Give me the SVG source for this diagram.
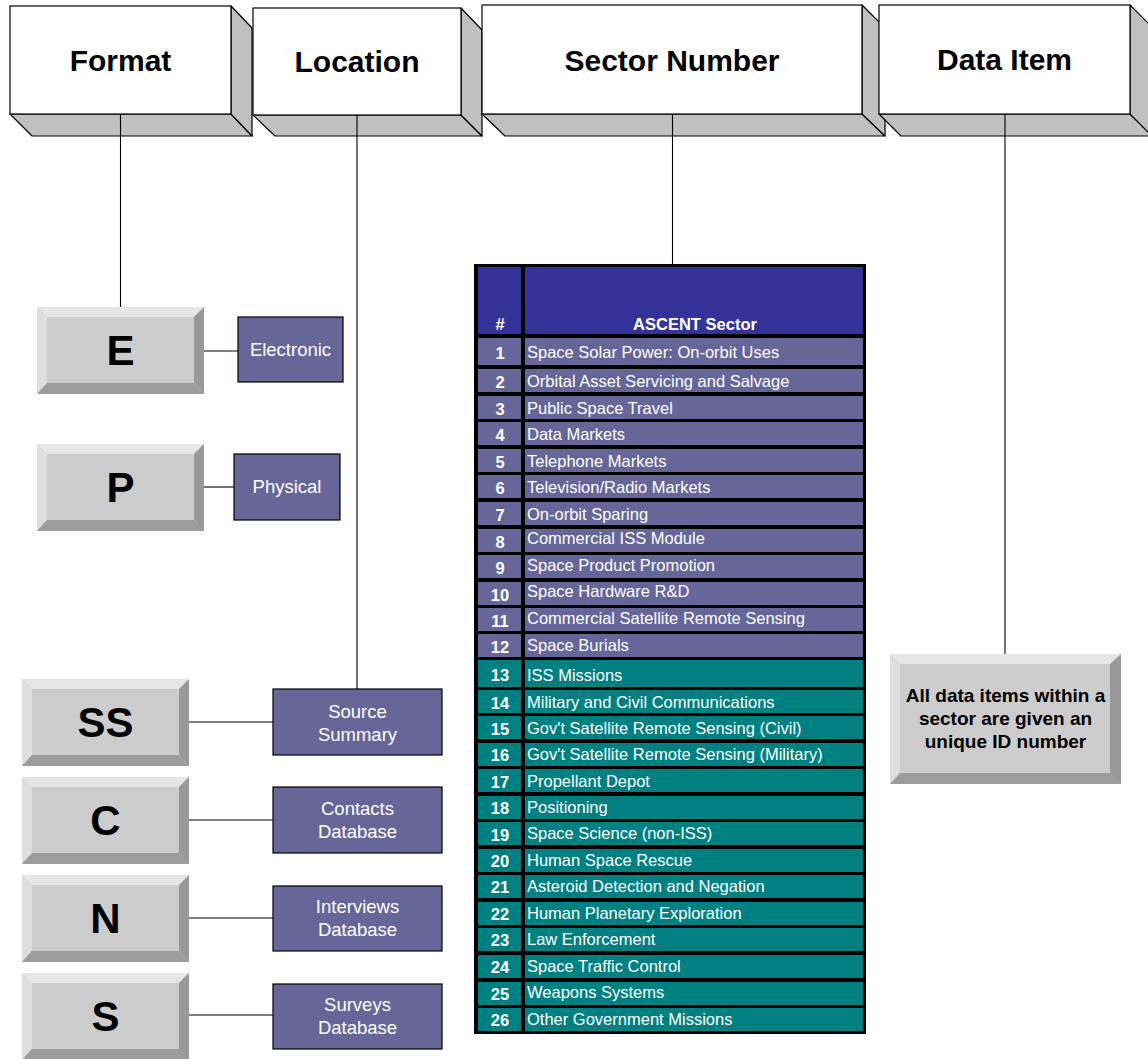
<svg xmlns="http://www.w3.org/2000/svg" xmlns:xlink="http://www.w3.org/1999/xlink" width="1148" height="1059" viewBox="0 0 1148 1059">
  <style>
    .front { fill: #ffffff; stroke: #000000; stroke-width: 1.2; }
    .side { fill: #c0c0c0; stroke: #000000; stroke-width: 1.2; stroke-linejoin: round; }
    .htitle { font-family: "Liberation Sans", Arial, sans-serif; font-weight: bold; font-size: 30px; fill: #000000; text-anchor: middle; }
    .key { font-family: "Liberation Sans", Arial, sans-serif; font-weight: bold; font-size: 42px; fill: #000000; text-anchor: middle; }
    .tag { fill: #666699; stroke: #000000; stroke-width: 1.2; }
    .tagtxt { font-family: "Liberation Sans", Arial, sans-serif; font-size: 18.5px; fill: #ffffff; text-anchor: middle; }
    .conn { stroke: #000000; stroke-width: 1.1; fill: none; }
    .hdr { fill: #333399; }
    .hdrtxt { font-family: "Liberation Sans", Arial, sans-serif; font-weight: bold; font-size: 16.5px; fill: #ffffff; text-anchor: middle; }
    .p { fill: #666699; }
    .t { fill: #008080; }
    .num { font-family: "Liberation Sans", Arial, sans-serif; font-weight: bold; font-size: 16.5px; fill: #ffffff; text-anchor: middle; }
    .name { font-family: "Liberation Sans", Arial, sans-serif; font-size: 16.5px; fill: #ffffff; }
    .note { font-family: "Liberation Sans", Arial, sans-serif; font-weight: bold; font-size: 19px; fill: #000000; text-anchor: middle; }
  </style>
  <defs>
    <!-- bevelled key, 167 x 87 -->
    <g id="key">
      <rect x="0" y="0" width="167" height="87" fill="#cccccc"/>
      <polygon points="0,0 167,0 157,10 10,10" fill="#e6e6e6"/>
      <polygon points="0,0 10,10 10,76 0,87" fill="#dedede"/>
      <polygon points="167,0 167,87 157,76 157,10" fill="#999999"/>
      <polygon points="0,87 10,76 157,76 167,87" fill="#9c9c9c"/>
    </g>
  </defs>

  <rect x="0" y="0" width="1148" height="1059" fill="#ffffff"/>

  <!-- connectors -->
  <g id="connectors">
    <line class="conn" x1="120.5" y1="114" x2="120.5" y2="307"/>
    <line class="conn" x1="357" y1="115" x2="357" y2="689"/>
    <line class="conn" x1="672.5" y1="114" x2="672.5" y2="264"/>
    <line class="conn" x1="1005" y1="114" x2="1005" y2="654"/>
    <line class="conn" x1="204" y1="351" x2="238" y2="351"/>
    <line class="conn" x1="204" y1="487" x2="234" y2="487"/>
    <line class="conn" x1="189" y1="722" x2="273" y2="722"/>
    <line class="conn" x1="189" y1="820" x2="273" y2="820"/>
    <line class="conn" x1="189" y1="918" x2="273" y2="918"/>
    <line class="conn" x1="189" y1="1015" x2="273" y2="1015"/>
  </g>

  <!-- header blocks -->
  <g id="hdr-format">
    <polygon class="side" points="10,114 231,114 252,136 32,136"/>
    <polygon class="side" points="231,6 252,28 252,136 231,114"/>
    <rect class="front" x="10" y="6" width="221" height="108"/>
    <line class="conn" x1="120.5" y1="114" x2="120.5" y2="136"/>
    <text class="htitle" x="120.5" y="71">Format</text>
  </g>
  <g id="hdr-location">
    <polygon class="side" points="253,115 461,115 482,136 275,136"/>
    <polygon class="side" points="461,8 482,30 482,136 461,115"/>
    <rect class="front" x="253" y="8" width="208" height="107"/>
    <line class="conn" x1="357" y1="115" x2="357" y2="136"/>
    <text class="htitle" x="357" y="72">Location</text>
  </g>
  <g id="hdr-sector">
    <polygon class="side" points="482,114 862,114 885,136 505,136"/>
    <polygon class="side" points="862,5 885,28 885,136 862,114"/>
    <rect class="front" x="482" y="5" width="380" height="109"/>
    <line class="conn" x1="672.5" y1="114" x2="672.5" y2="136"/>
    <text class="htitle" x="672" y="71">Sector Number</text>
  </g>
  <g id="hdr-item">
    <polygon class="side" points="879,114 1130,114 1152,136 901,136"/>
    <polygon class="side" points="1130,5 1152,27 1152,136 1130,114"/>
    <rect class="front" x="879" y="5" width="251" height="109"/>
    <line class="conn" x1="1005" y1="114" x2="1005" y2="136"/>
    <text class="htitle" x="1004.5" y="70">Data Item</text>
  </g>

  <!-- format keys -->
  <g id="key-e">
    <use xlink:href="#key" x="37" y="307"/>
    <text class="key" x="120.5" y="365">E</text>
  </g>
  <g id="tag-electronic">
    <rect class="tag" x="238" y="317" width="105" height="65"/>
    <text class="tagtxt" x="290.5" y="356">Electronic</text>
  </g>
  <g id="key-p">
    <use xlink:href="#key" x="37" y="444"/>
    <text class="key" x="120.5" y="502">P</text>
  </g>
  <g id="tag-physical">
    <rect class="tag" x="234" y="454" width="106" height="66"/>
    <text class="tagtxt" x="287" y="493">Physical</text>
  </g>

  <!-- location keys -->
  <g id="key-ss">
    <use xlink:href="#key" x="22" y="679"/>
    <text class="key" x="105.5" y="737">SS</text>
  </g>
  <g id="tag-source">
    <rect class="tag" x="273" y="689" width="169" height="66"/>
    <text class="tagtxt" x="357.5" y="718">Source</text>
    <text class="tagtxt" x="357.5" y="741">Summary</text>
  </g>
  <g id="key-c">
    <use xlink:href="#key" x="22" y="777"/>
    <text class="key" x="105.5" y="835">C</text>
  </g>
  <g id="tag-contacts">
    <rect class="tag" x="273" y="787" width="169" height="66"/>
    <text class="tagtxt" x="357.5" y="815">Contacts</text>
    <text class="tagtxt" x="357.5" y="838">Database</text>
  </g>
  <g id="key-n">
    <use xlink:href="#key" x="22" y="875"/>
    <text class="key" x="105.5" y="933">N</text>
  </g>
  <g id="tag-interviews">
    <rect class="tag" x="273" y="886" width="169" height="65"/>
    <text class="tagtxt" x="357.5" y="913">Interviews</text>
    <text class="tagtxt" x="357.5" y="936">Database</text>
  </g>
  <g id="key-s">
    <use xlink:href="#key" x="22" y="973"/>
    <text class="key" x="105.5" y="1031">S</text>
  </g>
  <g id="tag-surveys">
    <rect class="tag" x="273" y="984" width="169" height="65"/>
    <text class="tagtxt" x="357.5" y="1011">Surveys</text>
    <text class="tagtxt" x="357.5" y="1034">Database</text>
  </g>

  <!-- sector table -->
  <g id="sector-table">
    <rect x="474" y="264" width="392" height="770" fill="#000000"/>
    <rect class="hdr" x="478" y="267" width="43" height="67"/>
    <rect class="hdr" x="525" y="267" width="338" height="67"/>
    <text class="hdrtxt" x="500" y="330">#</text>
    <text class="hdrtxt" x="695" y="330">ASCENT Sector</text>

    <rect class="p" x="478" y="338" width="43" height="27"/><rect class="p" x="525" y="338" width="338" height="27"/>
    <text class="num" x="500" y="359">1</text><text class="name" x="527" y="358">Space Solar Power: On-orbit Uses</text>
    <rect class="p" x="478" y="369" width="43" height="23"/><rect class="p" x="525" y="369" width="338" height="23"/>
    <text class="num" x="500" y="387.5">2</text><text class="name" x="527" y="386.5">Orbital Asset Servicing and Salvage</text>
    <rect class="p" x="478" y="396" width="43" height="23"/><rect class="p" x="525" y="396" width="338" height="23"/>
    <text class="num" x="500" y="414.5">3</text><text class="name" x="527" y="413.5">Public Space Travel</text>
    <rect class="p" x="478" y="422" width="43" height="23"/><rect class="p" x="525" y="422" width="338" height="23"/>
    <text class="num" x="500" y="440.5">4</text><text class="name" x="527" y="439.5">Data Markets</text>
    <rect class="p" x="478" y="449" width="43" height="23"/><rect class="p" x="525" y="449" width="338" height="23"/>
    <text class="num" x="500" y="467.5">5</text><text class="name" x="527" y="466.5">Telephone Markets</text>
    <rect class="p" x="478" y="475" width="43" height="23"/><rect class="p" x="525" y="475" width="338" height="23"/>
    <text class="num" x="500" y="493.5">6</text><text class="name" x="527" y="492.5">Television/Radio Markets</text>
    <rect class="p" x="478" y="502" width="43" height="23"/><rect class="p" x="525" y="502" width="338" height="23"/>
    <text class="num" x="500" y="520.5">7</text><text class="name" x="527" y="519.5">On-orbit Sparing</text>
    <rect class="p" x="478" y="529" width="43" height="23"/><rect class="p" x="525" y="529" width="338" height="23"/>
    <text class="num" x="500" y="547.5">8</text><text class="name" x="527" y="543.5">Commercial ISS Module</text>
    <rect class="p" x="478" y="555" width="43" height="23"/><rect class="p" x="525" y="555" width="338" height="23"/>
    <text class="num" x="500" y="573.5">9</text><text class="name" x="527" y="570.5">Space Product Promotion</text>
    <rect class="p" x="478" y="582" width="43" height="23"/><rect class="p" x="525" y="582" width="338" height="23"/>
    <text class="num" x="500" y="600.5">10</text><text class="name" x="527" y="596.5">Space Hardware R&amp;D</text>
    <rect class="p" x="478" y="608" width="43" height="23"/><rect class="p" x="525" y="608" width="338" height="23"/>
    <text class="num" x="500" y="626.5">11</text><text class="name" x="527" y="624">Commercial Satellite Remote Sensing</text>
    <rect class="p" x="478" y="634" width="43" height="23"/><rect class="p" x="525" y="634" width="338" height="23"/>
    <text class="num" x="500" y="653">12</text><text class="name" x="527" y="651">Space Burials</text>

    <rect class="t" x="478" y="660" width="43" height="27"/><rect class="t" x="525" y="660" width="338" height="27"/>
    <text class="num" x="500" y="681">13</text><text class="name" x="527" y="681">ISS Missions</text>
    <rect class="t" x="478" y="690" width="43" height="23"/><rect class="t" x="525" y="690" width="338" height="23"/>
    <text class="num" x="500" y="708.5">14</text><text class="name" x="527" y="707.5">Military and Civil Communications</text>
    <rect class="t" x="478" y="716" width="43" height="23"/><rect class="t" x="525" y="716" width="338" height="23"/>
    <text class="num" x="500" y="734.5">15</text><text class="name" x="527" y="733.5">Gov't Satellite Remote Sensing (Civil)</text>
    <rect class="t" x="478" y="743" width="43" height="23"/><rect class="t" x="525" y="743" width="338" height="23"/>
    <text class="num" x="500" y="761">16</text><text class="name" x="527" y="760">Gov't Satellite Remote Sensing (Military)</text>
    <rect class="t" x="478" y="769" width="43" height="23"/><rect class="t" x="525" y="769" width="338" height="23"/>
    <text class="num" x="500" y="787.5">17</text><text class="name" x="527" y="786.5">Propellant Depot</text>
    <rect class="t" x="478" y="796" width="43" height="23"/><rect class="t" x="525" y="796" width="338" height="23"/>
    <text class="num" x="500" y="814">18</text><text class="name" x="527" y="812.5">Positioning</text>
    <rect class="t" x="478" y="822" width="43" height="23"/><rect class="t" x="525" y="822" width="338" height="23"/>
    <text class="num" x="500" y="840.5">19</text><text class="name" x="527" y="839">Space Science (non-ISS)</text>
    <rect class="t" x="478" y="849" width="43" height="23"/><rect class="t" x="525" y="849" width="338" height="23"/>
    <text class="num" x="500" y="867">20</text><text class="name" x="527" y="866">Human Space Rescue</text>
    <rect class="t" x="478" y="875" width="43" height="23"/><rect class="t" x="525" y="875" width="338" height="23"/>
    <text class="num" x="500" y="893">21</text><text class="name" x="527" y="892">Asteroid Detection and Negation</text>
    <rect class="t" x="478" y="902" width="43" height="23"/><rect class="t" x="525" y="902" width="338" height="23"/>
    <text class="num" x="500" y="920">22</text><text class="name" x="527" y="918.5">Human Planetary Exploration</text>
    <rect class="t" x="478" y="928" width="43" height="23"/><rect class="t" x="525" y="928" width="338" height="23"/>
    <text class="num" x="500" y="946">23</text><text class="name" x="527" y="945">Law Enforcement</text>
    <rect class="t" x="478" y="955" width="43" height="23"/><rect class="t" x="525" y="955" width="338" height="23"/>
    <text class="num" x="500" y="973">24</text><text class="name" x="527" y="971.5">Space Traffic Control</text>
    <rect class="t" x="478" y="982" width="43" height="23"/><rect class="t" x="525" y="982" width="338" height="23"/>
    <text class="num" x="500" y="1000">25</text><text class="name" x="527" y="998">Weapons Systems</text>
    <rect class="t" x="478" y="1008" width="43" height="23"/><rect class="t" x="525" y="1008" width="338" height="23"/>
    <text class="num" x="500" y="1026">26</text><text class="name" x="527" y="1024.5">Other Government Missions</text>
  </g>

  <!-- data item note -->
  <g id="note-item">
    <rect x="890" y="654" width="231" height="130" fill="#cccccc"/>
    <polygon points="890,654 1121,654 1111,664 900,664" fill="#e6e6e6"/>
    <polygon points="890,654 900,664 900,773 890,784" fill="#dedede"/>
    <polygon points="1121,654 1121,784 1110,773 1110,664" fill="#999999"/>
    <polygon points="890,784 900,773 1110,773 1121,784" fill="#9c9c9c"/>
    <text class="note" x="1005.5" y="702">All data items within a</text>
    <text class="note" x="1005.5" y="725">sector are given an</text>
    <text class="note" x="1005.5" y="748">unique ID number</text>
  </g>
</svg>
